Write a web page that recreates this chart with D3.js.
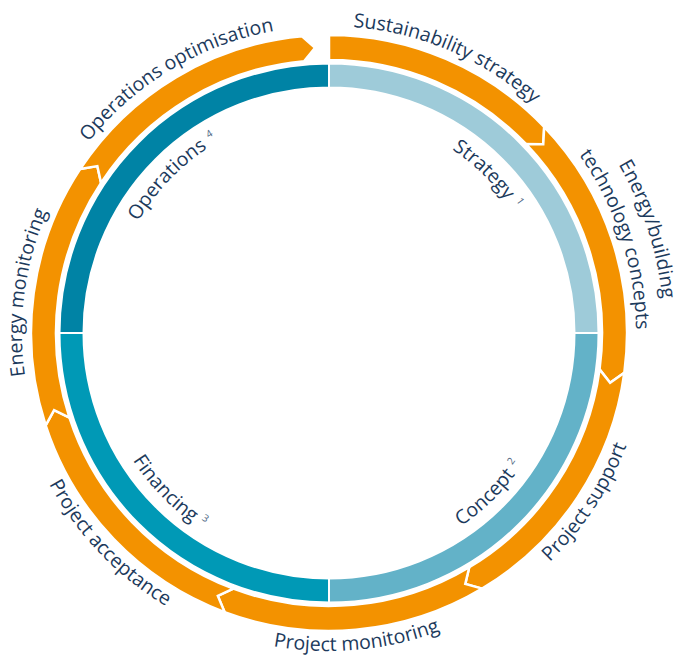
<!DOCTYPE html>
<html>
<head>
<meta charset="utf-8">
<script src="https://cdn.jsdelivr.net/npm/d3@7"></script>
<style>
  body { margin: 0; background: #fff; }
  svg { display: block; }
  text { font-family: "Open Sans", sans-serif; fill: #1c3a5c; }
</style>
</head>
<body>
<svg id="chart"></svg>
<script>
// Inner ring: project phases
const phases = ["Strategy", "Concept", "Financing", "Operations"];
const phaseNotes = ["1", "2", "3", "4"];
const phaseColors = ["#9ecbd9", "#63b2c8", "#0099b6", "#0083a5"];

// Outer ring: services (one label may have several lines)
const services = [
  ["Sustainability strategy"],
  ["Energy/building", "technology concepts"],
  ["Project support"],
  ["Project monitoring"],
  ["Project acceptance"],
  ["Energy monitoring"],
  ["Operations optimisation"]
];
const serviceColor = "#f39200";

const width = 675;
const height = 661;
const cx = 329;
const cy = 333;

const svg = d3.select("#chart").attr("width", width).attr("height", height);
const defs = svg.append("defs");

const rad = (deg) => (deg * Math.PI) / 180;
const pt = (a, r) => [cx + r * Math.sin(a), cy - r * Math.cos(a)];

// Angle scale for the outer ring (clockwise from 12 o'clock)
const offset = rad(-5.2);
const angle = d3
  .scaleLinear()
  .domain([0, services.length])
  .range([offset, offset + 2 * Math.PI]);

// ---- inner ring ----
const pie = d3.pie().value(1).sort(null)(phases);
const innerArc = d3.arc().innerRadius(245.5).outerRadius(269.5);

svg
  .append("g")
  .attr("transform", `translate(${cx},${cy})`)
  .selectAll("path")
  .data(pie)
  .enter()
  .append("path")
  .attr("d", innerArc)
  .attr("fill", (d, i) => phaseColors[i])
  .attr("stroke", "#fff")
  .attr("stroke-width", 2);

// ---- outer ring of arrows ----
const rIn = 273;
const rOut = 298;
const rMid = (rIn + rOut) / 2;
const tip = rad(2.4);

function arrowPath(a0, a1, flatStart) {
  const p = d3.path();
  p.moveTo(...pt(a0, rOut));
  p.arc(cx, cy, rOut, a0 - Math.PI / 2, a1 - Math.PI / 2);
  p.lineTo(...pt(a1 + tip, rMid));
  p.lineTo(...pt(a1, rIn));
  p.arc(cx, cy, rIn, a1 - Math.PI / 2, a0 - Math.PI / 2, true);
  if (!flatStart) p.lineTo(...pt(a0 + tip, rMid));
  p.closePath();
  return p.toString();
}

const segStart = (i) => (i === 0 ? 0 : angle(i));
const segMid = (i) => (segStart(i) + angle(i + 1)) / 2;

svg
  .append("g")
  .selectAll("path")
  .data(services)
  .enter()
  .append("path")
  .attr("d", (d, i) => arrowPath(segStart(i), angle(i + 1), i === 0))
  .attr("fill", serviceColor)
  .attr("stroke", "#fff")
  .attr("stroke-width", 2.5)
  .attr("stroke-linejoin", "miter");

// ---- curved labels ----
let pathId = 0;
function arcPath(center, r, clockwise) {
  const span = rad(80);
  const id = "arc" + pathId++;
  const a = clockwise ? center - span : center + span;
  const b = clockwise ? center + span : center - span;
  const p = d3.path();
  p.moveTo(...pt(a, r));
  p.arc(cx, cy, r, a - Math.PI / 2, b - Math.PI / 2, !clockwise);
  defs.append("path").attr("id", id).attr("d", p.toString());
  return id;
}

const isTop = (a) => Math.cos(a) > 0;

// Service labels outside the orange ring
services.forEach((lines, i) => {
  const a = segMid(i);
  const top = isTop(a);
  lines.forEach((line, j) => {
    const r = top ? 307 + 28 * (lines.length - 1 - j) : 318 + 28 * j;
    const id = arcPath(a, r, top);
    svg
      .append("text")
      .attr("font-size", 19.5)
      .append("textPath")
      .attr("href", "#" + id)
      .attr("startOffset", "50%")
      .attr("text-anchor", "middle")
      .text(line);
  });
});

// Phase labels inside the blue ring
pie.forEach((d, i) => {
  const a = (d.startAngle + d.endAngle) / 2;
  const top = isTop(a);
  const id = arcPath(a, top ? 221 : 234, top);
  const tp = svg
    .append("text")
    .attr("font-size", 19.5)
    .append("textPath")
    .attr("href", "#" + id)
    .attr("startOffset", "50%")
    .attr("text-anchor", "middle");
  tp.append("tspan").text(phases[i]);
  tp.append("tspan")
    .attr("dx", 6)
    .attr("dy", -8)
    .attr("font-size", 10)
    .style("fill", "#4d6683")
    .text(phaseNotes[i]);
});
</script>
</body>
</html>
